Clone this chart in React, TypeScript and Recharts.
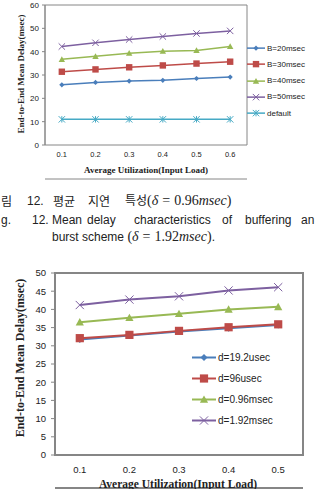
import { Legend, Line, LineChart, ReferenceArea, XAxis, YAxis } from 'recharts'

// upper chart: delay vs. load for several burst timers
const TOP_LOADS = [0.1, 0.2, 0.3, 0.4, 0.5, 0.6]
const TOP_B20 = [25.8, 26.8, 27.4, 27.7, 28.5, 29.1]
const TOP_B30 = [31.4, 32.4, 33.3, 34.1, 34.9, 35.7]
const TOP_B40 = [36.7, 38.0, 39.3, 40.2, 40.5, 42.2]
const TOP_B50 = [42.2, 43.8, 45.2, 46.5, 47.8, 48.9]
const TOP_DEFAULT = [11, 11, 11, 11, 11, 11]
const TOP_EDGES = [0.05, 0.15, 0.25, 0.35, 0.45, 0.55, 0.65]
const TOP_Y_TICKS = [0, 10, 20, 30, 40, 50, 60]

// lower chart: delay vs. load for several offset times
const BOTTOM_LOADS = [0.1, 0.2, 0.3, 0.4, 0.5]
const BOTTOM_D19US = [31.75, 32.8, 33.9, 34.8, 35.7]
const BOTTOM_D96US = [32.1, 33.0, 34.1, 35.1, 35.9]
const BOTTOM_D096MS = [36.5, 37.7, 38.8, 40.0, 40.7]
const BOTTOM_D192MS = [41.2, 42.7, 43.6, 45.2, 46.1]
const BOTTOM_EDGES = [0.05, 0.15, 0.25, 0.35, 0.45, 0.55]
const BOTTOM_Y_TICKS = [0, 5, 10, 15, 20, 25, 30, 35, 40, 45, 50]

const BLUE = '#4A7EBB'
const RED = '#BE4B48'
const GREEN = '#98B954'
const PURPLE = '#7D60A0'
const CYAN = '#46AAC5'
const FRAME = '#868686'
const INK = '#222'

const SANS = '"Liberation Sans", Arial, sans-serif'
const SERIF = '"Liberation Serif", "Times New Roman", serif'
const KOREAN = '"Noto Sans CJK KR", sans-serif'

type Shape = 'diamond' | 'square' | 'triangle' | 'cross' | 'star'

interface Series {
  key: string
  name: string
  color: string
  shape: Shape
  values: number[]
}

const TOP_SERIES: Series[] = [
  { key: 'b20', name: 'B=20msec', color: BLUE, shape: 'diamond', values: TOP_B20 },
  { key: 'b30', name: 'B=30msec', color: RED, shape: 'square', values: TOP_B30 },
  { key: 'b40', name: 'B=40msec', color: GREEN, shape: 'triangle', values: TOP_B40 },
  { key: 'b50', name: 'B=50msec', color: PURPLE, shape: 'cross', values: TOP_B50 },
  { key: 'def', name: 'default', color: CYAN, shape: 'star', values: TOP_DEFAULT },
]

const BOTTOM_SERIES: Series[] = [
  { key: 'd19us', name: 'd=19.2usec', color: BLUE, shape: 'diamond', values: BOTTOM_D19US },
  { key: 'd96us', name: 'd=96usec', color: RED, shape: 'square', values: BOTTOM_D96US },
  { key: 'd096ms', name: 'd=0.96msec', color: GREEN, shape: 'triangle', values: BOTTOM_D096MS },
  { key: 'd192ms', name: 'd=1.92msec', color: PURPLE, shape: 'cross', values: BOTTOM_D192MS },
]

function buildRows(loads: number[], series: Series[]) {
  return loads.map((load, i) => {
    const row: Record<string, number> = { load }
    series.forEach(s => {
      row[s.key] = s.values[i]
    })
    return row
  })
}

const topRows = buildRows(TOP_LOADS, TOP_SERIES)
const bottomRows = buildRows(BOTTOM_LOADS, BOTTOM_SERIES)

function sizeFor(shape: Shape, big: boolean) {
  const base = shape === 'diamond' ? 2.6 : 3.2
  return big ? base + 0.9 : base
}

function Marker({ shape, cx, cy, s, color }: { shape: Shape; cx: number; cy: number; s: number; color: string }) {
  if (shape === 'diamond') {
    return <polygon points={`${cx},${cy - s} ${cx + s},${cy} ${cx},${cy + s} ${cx - s},${cy}`} fill={color} />
  }
  if (shape === 'square') {
    return <rect x={cx - s} y={cy - s} width={2 * s} height={2 * s} fill={color} />
  }
  if (shape === 'triangle') {
    return <polygon points={`${cx},${cy - s} ${cx + s},${cy + s * 0.8} ${cx - s},${cy + s * 0.8}`} fill={color} />
  }
  const cross = (
    <>
      <line x1={cx - s} y1={cy - s} x2={cx + s} y2={cy + s} stroke={color} strokeWidth={1} />
      <line x1={cx - s} y1={cy + s} x2={cx + s} y2={cy - s} stroke={color} strokeWidth={1} />
    </>
  )
  if (shape === 'cross') return <g>{cross}</g>
  return (
    <g>
      {cross}
      <line x1={cx} y1={cy - s} x2={cx} y2={cy + s} stroke={color} strokeWidth={1} />
    </g>
  )
}

const dotFor = (s: Series, big: boolean) => (props: any) => (
  <Marker
    key={`${s.key}-${props.index}`}
    shape={s.shape}
    cx={props.cx}
    cy={props.cy}
    s={sizeFor(s.shape, big)}
    color={s.color}
  />
)

function SeriesLegend({ series, rowHeight, lineWidth, fontSize, big }: {
  series: Series[]
  rowHeight: number
  lineWidth: number
  fontSize: number
  big: boolean
}) {
  return (
    <div>
      {series.map(s => (
        <div key={s.key} style={{ display: 'flex', alignItems: 'center', height: rowHeight }}>
          <svg width={lineWidth} height={rowHeight} style={{ display: 'block' }}>
            <line x1={0} y1={rowHeight / 2} x2={lineWidth} y2={rowHeight / 2} stroke={s.color} strokeWidth={big ? 2 : 1.5} />
            <Marker shape={s.shape} cx={lineWidth / 2} cy={rowHeight / 2} s={sizeFor(s.shape, big)} color={s.color} />
          </svg>
          <span style={{ fontFamily: SANS, fontSize, color: INK, marginLeft: 2, whiteSpace: 'nowrap' }}>{s.name}</span>
        </div>
      ))}
    </div>
  )
}

const abs = (left: number, top: number): React.CSSProperties => ({ position: 'absolute', left, top, whiteSpace: 'nowrap' })

function AxisTitleY({ cx, cy, size, text }: { cx: number; cy: number; size: number; text: string }) {
  return (
    <div
      style={{
        ...abs(cx - 110, cy - 8),
        width: 220,
        height: 16,
        lineHeight: '16px',
        textAlign: 'center',
        transform: 'rotate(-90deg)',
        fontFamily: SERIF,
        fontWeight: 'bold',
        fontSize: size,
        color: INK,
      }}
    >
      {text}
    </div>
  )
}

function AxisTitleX({ cx, top, size, text }: { cx: number; top: number; size: number; text: string }) {
  return (
    <div
      style={{
        ...abs(cx - 110, top),
        width: 220,
        textAlign: 'center',
        lineHeight: `${size + 2}px`,
        fontFamily: SERIF,
        fontWeight: 'bold',
        fontSize: size,
        color: INK,
      }}
    >
      {text}
    </div>
  )
}

const it = { fontStyle: 'italic' } as const

function Delta({ value }: { value: string }) {
  return (
    <span style={{ fontFamily: SERIF, fontSize: 14 }}>
      (<span style={it}>δ</span>
      <span style={{ margin: '0 4px' }}>=</span>
      {value}
      <span style={it}>msec</span>)
    </span>
  )
}

const captionText: React.CSSProperties = { fontFamily: SANS, fontSize: 12, color: INK, lineHeight: '14px' }
const captionKo: React.CSSProperties = { fontFamily: KOREAN, fontSize: 12, color: INK, lineHeight: '14px' }

export default function App() {
  return (
    <div style={{ position: 'absolute', left: 0, top: 0, width: 317, height: 489, overflow: 'hidden', background: '#fff' }}>
      <div style={abs(0, 0)}>
        <LineChart width={317} height={180} data={topRows} margin={{ top: 5, right: 70, bottom: 0, left: 0 }}>
          <XAxis
            xAxisId="edges"
            dataKey="load"
            type="number"
            domain={[0.05, 0.65]}
            allowDataOverflow
            ticks={TOP_EDGES}
            tick={false}
            tickSize={4}
            tickLine={{ stroke: FRAME }}
            axisLine={{ stroke: FRAME }}
            height={1}
          />
          <XAxis
            dataKey="load"
            type="number"
            domain={[0.05, 0.65]}
            allowDataOverflow
            ticks={TOP_LOADS}
            tickFormatter={(v: number) => v.toFixed(1)}
            tick={{ fill: INK, fontSize: 7.5, fontFamily: SANS }}
            tickLine={false}
            axisLine={false}
            tickSize={5}
            tickMargin={2}
            height={34}
          />
          <YAxis
            type="number"
            domain={[0, 60]}
            ticks={TOP_Y_TICKS}
            width={45}
            tick={{ fill: INK, fontSize: 8, fontFamily: SANS }}
            tickLine={{ stroke: FRAME }}
            axisLine={{ stroke: FRAME }}
            tickSize={3}
            tickMargin={3}
          />
          <ReferenceArea x1={0.05} x2={0.65} y1={0} y2={60} fill="none" stroke={FRAME} strokeWidth={1} />
          {TOP_SERIES.map(s => (
            <Line
              key={s.key}
              dataKey={s.key}
              name={s.name}
              stroke={s.color}
              strokeWidth={1.5}
              dot={dotFor(s, false)}
              activeDot={false}
              isAnimationActive={false}
            />
          ))}
          <Legend
            layout="vertical"
            align="center"
            verticalAlign="middle"
            wrapperStyle={{ left: 247, top: 40, width: 70 }}
            content={() => <SeriesLegend series={TOP_SERIES} rowHeight={16.25} lineWidth={18} fontSize={8} big={false} />}
          />
        </LineChart>
      </div>
      <AxisTitleY cx={21} cy={74} size={9} text="End-to-End Mean Delay(msec)" />
      <AxisTitleX cx={146} top={165} size={9} text="Average Utilization(Input Load)" />

      {/* caption block, left edge of the column is trimmed */}
      <div style={{ ...abs(1, 194), ...captionKo }}>림</div>
      <div style={{ ...abs(27, 194), ...captionText }}>12.</div>
      <div style={{ ...abs(53, 194), ...captionKo }}>평균</div>
      <div style={{ ...abs(88, 194), ...captionKo }}>지연</div>
      <div style={{ ...abs(125, 193), ...captionKo }}>
        특성<Delta value="0.96" />
      </div>

      <div style={{ ...abs(1, 213), ...captionText }}>g.</div>
      <div style={{ ...abs(32, 213), ...captionText }}>12.</div>
      <div style={{ ...abs(52, 213), ...captionText }}>Mean</div>
      <div style={{ ...abs(87, 213), ...captionText }}>delay</div>
      <div style={{ ...abs(134, 213), ...captionText }}>characteristics</div>
      <div style={{ ...abs(222, 213), ...captionText }}>of</div>
      <div style={{ ...abs(245, 213), ...captionText }}>buffering</div>
      <div style={{ ...abs(301, 213), ...captionText }}>an</div>

      <div style={{ ...abs(52, 230), ...captionText }}>
        burst scheme <Delta value="1.92" />.
      </div>

      <div style={abs(0, 260)}>
        <LineChart width={317} height={229} data={bottomRows} margin={{ top: 13, right: 14, bottom: 0, left: 0 }}>
          <XAxis
            xAxisId="edges"
            dataKey="load"
            type="number"
            domain={[0.05, 0.55]}
            allowDataOverflow
            ticks={BOTTOM_EDGES}
            tick={false}
            tickSize={4}
            tickLine={{ stroke: FRAME }}
            axisLine={{ stroke: FRAME, strokeWidth: 2 }}
            height={1}
          />
          <XAxis
            dataKey="load"
            type="number"
            domain={[0.05, 0.55]}
            allowDataOverflow
            ticks={BOTTOM_LOADS}
            tickFormatter={(v: number) => v.toFixed(1)}
            tick={{ fill: INK, fontSize: 9.5, fontFamily: SANS }}
            tickLine={false}
            axisLine={false}
            tickSize={8}
            tickMargin={3}
            height={33}
          />
          <YAxis
            type="number"
            domain={[0, 50]}
            ticks={BOTTOM_Y_TICKS}
            width={55}
            tick={{ fill: INK, fontSize: 9.5, fontFamily: SANS }}
            tickLine={{ stroke: FRAME }}
            axisLine={{ stroke: FRAME, strokeWidth: 2 }}
            tickSize={4}
            tickMargin={5}
          />
          <ReferenceArea x1={0.05} x2={0.55} y1={0} y2={50} fill="none" stroke={FRAME} strokeWidth={2} />
          {BOTTOM_SERIES.map(s => (
            <Line
              key={s.key}
              dataKey={s.key}
              name={s.name}
              stroke={s.color}
              strokeWidth={2}
              dot={dotFor(s, true)}
              activeDot={false}
              isAnimationActive={false}
            />
          ))}
          <Legend
            layout="vertical"
            align="center"
            verticalAlign="middle"
            wrapperStyle={{ left: 192, top: 86.5, width: 110 }}
            content={() => <SeriesLegend series={BOTTOM_SERIES} rowHeight={21} lineWidth={24} fontSize={10} big />}
          />
        </LineChart>
      </div>
      <AxisTitleY cx={20} cy={358} size={12} text="End-to-End Mean Delay(msec)" />
      <AxisTitleX cx={178} top={478} size={11.5} text="Average Utilization(Input Load)" />
    </div>
  )
}
